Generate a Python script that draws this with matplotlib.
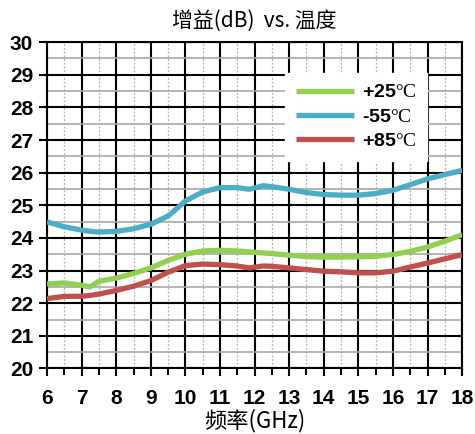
import matplotlib
matplotlib.use("Agg")
import matplotlib.pyplot as plt
from matplotlib.ticker import MultipleLocator

plt.rcParams['mathtext.fontset'] = 'custom'
plt.rcParams['mathtext.rm'] = 'Liberation Serif'

freq = [6, 6.5, 7, 7.25, 7.5, 8, 8.5, 9, 9.5, 10, 10.5, 11, 11.5, 11.85, 12.25, 12.5, 13, 13.5, 14, 14.5, 15, 15.5, 16, 16.5, 17, 17.5, 18]
g_p25 = [22.59, 22.62, 22.55, 22.50, 22.67, 22.77, 22.91, 23.08, 23.31, 23.50, 23.60, 23.62, 23.60, 23.57, 23.54, 23.52, 23.47, 23.43, 23.41, 23.41, 23.42, 23.44, 23.49, 23.59, 23.72, 23.90, 24.10]
g_m55 = [24.49, 24.34, 24.24, 24.20, 24.18, 24.20, 24.28, 24.42, 24.67, 25.13, 25.41, 25.54, 25.54, 25.49, 25.60, 25.57, 25.49, 25.39, 25.33, 25.31, 25.31, 25.36, 25.46, 25.63, 25.81, 25.94, 26.07]
g_p85 = [22.14, 22.21, 22.21, 22.24, 22.28, 22.39, 22.52, 22.69, 22.95, 23.15, 23.20, 23.18, 23.14, 23.08, 23.14, 23.13, 23.08, 23.03, 22.98, 22.96, 22.93, 22.93, 22.98, 23.11, 23.23, 23.36, 23.49]
labels = ['+25', '-55', '+85']
colors = ['#92D050', '#4BACC6', '#C0504D']
xticks = list(range(6, 19))
yticks = list(range(20, 31))

fig = plt.figure(figsize=(4.75, 4.34), dpi=100)
ax = fig.add_axes([0.099, 0.151, 0.874, 0.752])

for y, lab, c in zip([g_p25, g_m55, g_p85], labels, colors):
    ax.plot(freq, y, color=c, lw=3.8, solid_capstyle='butt',
            label=lab + r'$\mathrm{°C}$', zorder=3)

ax.set_xlim(6, 18)
ax.set_ylim(20, 30)
ax.xaxis.set_major_locator(MultipleLocator(1))
ax.xaxis.set_minor_locator(MultipleLocator(0.5))
ax.yaxis.set_major_locator(MultipleLocator(1))
ax.yaxis.set_minor_locator(MultipleLocator(0.5))
ax.set_xticks(xticks)
ax.set_yticks(yticks)

ax.grid(True, which='major', color='black', lw=1.5, zorder=1)
ax.grid(True, which='minor', axis='y', color='#A8A8A8', lw=1.2, zorder=0.5)
ax.grid(True, which='minor', axis='x', color='#B0B0B0', lw=0.9, ls=(0, (1.5, 1.5)), zorder=0.5)
ax.set_axisbelow(True)

for s in ax.spines.values():
    s.set_color('black')
    s.set_linewidth(1.5)

ax.tick_params(axis='y', which='major', direction='out', length=6, width=1.5, pad=4)
ax.tick_params(axis='x', which='major', direction='out', length=6, width=1.5, pad=9)
ax.tick_params(axis='y', which='minor', length=0)
ax.tick_params(axis='x', which='minor', direction='out', length=5, width=1.5)
for t in ax.get_xticklabels() + ax.get_yticklabels():
    t.set_fontfamily('Liberation Sans')
    t.set_fontweight('bold')
    t.set_fontsize(15)

ax.set_title('增益(dB)  vs. 温度', fontfamily=['Noto Sans CJK SC', 'DejaVu Sans'], fontsize=15, pad=11)
ax.set_xlabel('频率(GHz)', fontfamily=['Noto Sans CJK SC', 'DejaVu Sans'], fontsize=16, labelpad=0)

leg = ax.legend(loc='upper left', bbox_to_anchor=(0.573, 0.905), frameon=True, fancybox=False,
                edgecolor='white', facecolor='white', framealpha=1,
                prop={'family': 'Liberation Sans', 'weight': 'bold', 'size': 14},
                handlelength=3.0, handletextpad=0.4, labelspacing=0.35, borderpad=0.55,
                borderaxespad=0)
leg.set_zorder(5)

fig.savefig('out.png', dpi=100)
